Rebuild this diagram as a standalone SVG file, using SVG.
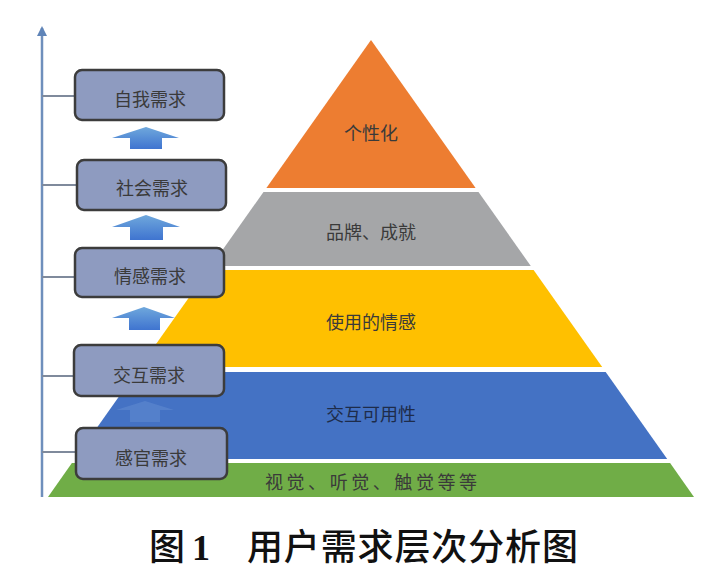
<svg xmlns="http://www.w3.org/2000/svg" width="702" height="582" viewBox="0 0 702 582">
<defs>
<style>
.lbl{font-family:"Noto Sans CJK SC","Liberation Sans",sans-serif;font-size:18px;fill:#3a3a3a;text-anchor:middle;dominant-baseline:central}
.box{fill:#8e9bc0;stroke:#3c3c3c;stroke-width:2.5}
.tick{stroke:#7f8a9c;stroke-width:2}
.cap{font-family:"Noto Sans CJK SC","Liberation Sans",sans-serif;font-size:36px;font-weight:500;fill:#111}
</style>
<linearGradient id="ag" x1="0" y1="0" x2="0" y2="1">
<stop offset="0" stop-color="#6fa8dc"/>
<stop offset="1" stop-color="#3f74d0"/>
</linearGradient>
<marker id="axhead" viewBox="0 0 10 10" refX="8" refY="5" markerWidth="4" markerHeight="4" orient="auto" markerUnits="strokeWidth">
<path d="M0,0 L10,5 L0,10 Z" fill="#5f84b8"/>
</marker>
</defs>
<rect width="702" height="582" fill="#ffffff"/>

<g id="pyramid">
<g id="layer-top"><polygon points="371,40 475.6,188 266.4,188" fill="#ed7d31"/><text class="lbl" x="371" y="132">个性化</text></g>
<g id="layer-brand"><polygon points="263.5,192 478.5,192 530.8,266 211.2,266" fill="#a5a6a8"/><text class="lbl" x="371" y="231">品牌、成就</text></g>
<g id="layer-emotion"><polygon points="208.4,270 533.6,270 602.2,367 139.8,367" fill="#ffc000"/><text class="lbl" x="371" y="321">使用的情感</text></g>
<g id="layer-usability"><polygon points="136.3,372 605.7,372 667.2,459 74.8,459" fill="#4472c4"/><text class="lbl" x="371" y="413" style="fill:#1e2c4a">交互可用性</text></g>
<g id="layer-senses"><polygon points="71.9,463 670.1,463 694,497 48,497" fill="#70ad47"/><text class="lbl" x="371" y="481" textLength="212" lengthAdjust="spacing">视觉、听觉、触觉等等</text></g>
</g>

<g id="connectors">
<line x1="42" y1="497" x2="42" y2="28" stroke="#6f8fbc" stroke-width="2.5" marker-end="url(#axhead)"/>
<line class="tick" x1="42" y1="96" x2="75" y2="96"/>
<line class="tick" x1="42" y1="185" x2="77" y2="185"/>
<line class="tick" x1="42" y1="277" x2="75" y2="277"/>
<line class="tick" x1="42" y1="376" x2="74" y2="376"/>
<line class="tick" x1="42" y1="452" x2="76" y2="452"/>
<path d="M112,138 L146,127 L179,138 L162,138 L162,149 L130,149 L130,138 Z" fill="url(#ag)"/>
<path d="M112,227 L146,215 L180,227 L163,227 L163,240 L130,240 L130,227 Z" fill="url(#ag)"/>
<path d="M112,318 L144,307 L175,318 L160,318 L160,330 L129,330 L129,318 Z" fill="url(#ag)"/>
<path d="M116,410 L145,401 L174,410 L160,410 L160,422 L130,422 L130,410 Z" fill="#9ec0ee" opacity="0.18"/>
</g>

<g id="n-self"><rect class="box" x="75" y="70" width="149" height="50" rx="7"/><text class="lbl" x="150" y="98">自我需求</text></g>
<g id="n-social"><rect class="box" x="77" y="160" width="149" height="50" rx="7"/><text class="lbl" x="152" y="187">社会需求</text></g>
<g id="n-emotion"><rect class="box" x="75" y="248" width="149" height="49" rx="7"/><text class="lbl" x="150" y="275">情感需求</text></g>
<g id="n-interact"><rect class="box" x="74" y="345" width="150" height="51" rx="7"/><text class="lbl" x="149" y="374">交互需求</text></g>
<g id="n-sense"><rect class="box" x="76" y="428" width="151" height="51" rx="7"/><text class="lbl" x="151" y="457">感官需求</text></g>

<g id="caption">
<text class="cap" x="149" y="560">图</text>
<text x="192" y="560" style="font-family:'Liberation Serif',serif;font-size:36px;font-weight:700;fill:#111">1</text>
<text class="cap" x="247" y="560" textLength="331" lengthAdjust="spacing">用户需求层次分析图</text>
</g>
</svg>
